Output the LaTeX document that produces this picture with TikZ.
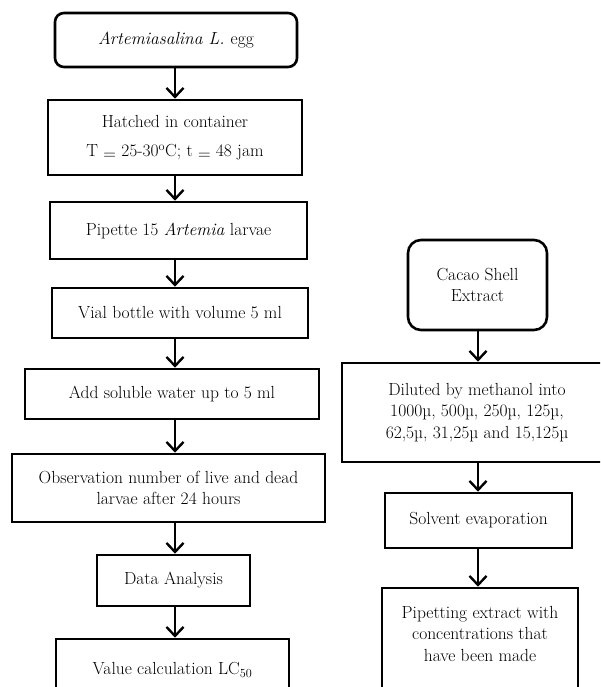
\documentclass[tikz,border=0pt]{standalone}
\usetikzlibrary{arrows.meta}
\begin{document}
\begin{tikzpicture}[x=1pt,y=-1pt,
  every node/.style={font=\fontsize{17.5}{21.5}\selectfont, align=center, inner sep=0pt},
  boxr/.style={draw, line width=2.6pt, rectangle},
  boxround/.style={boxr, rounded corners=9pt},
  arr/.style={line width=2.4pt, -{Straight Barb[length=9pt,width=17pt,line width=2.4pt]}}]
\useasboundingbox (0,0) rectangle (600,687);
\clip (0,0) rectangle (600,687);
\fill[white] (0,0) rectangle (600,687);
\coordinate (xL) at (175,0);
\coordinate (xR) at (478,0);
% left column
\node[boxround, minimum width=242pt, minimum height=54pt] (b1) at (176,40) {\itshape Artemiasalina L. \upshape egg};
\node[boxr, minimum width=254pt, minimum height=75pt] (b2) at (175,137.5) {Hatched in container\\[8pt] T \raisebox{-3pt}{=} 25-30\textsuperscript{o}C; t \raisebox{-3pt}{=} 48 jam};
\node[boxr, minimum width=257pt, minimum height=57pt] (b3) at (178.5,230.5) {Pipette 15 \textit{Artemia} larvae};
\node[boxr, minimum width=256pt, minimum height=50pt] (b4) at (180,313) {Vial bottle with volume 5 ml};
\node[boxr, minimum width=294pt, minimum height=50pt] (b5) at (172,394) {Add soluble water up to 5 ml};
\node[boxr, minimum width=313pt, minimum height=68pt] (b6) at (168.5,488) {Observation number of live and dead\\ larvae after 24 hours};
\node[boxr, minimum width=153pt, minimum height=51pt] (b7) at (173.5,580.5) {Data Analysis};
\node[boxr, minimum width=233pt, minimum height=62pt] (b8) at (172.5,670) {Value calculation LC\textsubscript{50}};
% right column
\node[boxround, rounded corners=13pt, minimum width=139pt, minimum height=90pt] (c1) at (477.5,285) {Cacao Shell\\ Extract};
\node[boxr, minimum width=270pt, minimum height=99pt] (c2) at (477,412.5) {Diluted by methanol into\\ 1000µ, 500µ, 250µ, 125µ,\\ 62,5µ, 31,25µ and 15,125µ};
\node[boxr, minimum width=187pt, minimum height=55pt] (c3) at (478.5,520.5) {Solvent evaporation};
\node[boxr, minimum width=196pt, minimum height=112pt] (c4) at (480,644) {};
\node (c4t) at (480,633.5) {Pipetting extract with\\ concentrations that\\ have been made};
% arrows
\draw[arr] (b1.south -| xL) -- (b2.north -| xL);
\draw[arr] (b2.south -| xL) -- (b3.north -| xL);
\draw[arr] (b3.south -| xL) -- (b4.north -| xL);
\draw[arr] (b4.south -| xL) -- (b5.north -| xL);
\draw[arr] (b5.south -| xL) -- (b6.north -| xL);
\draw[arr] (b6.south -| xL) -- (b7.north -| xL);
\draw[arr] (b7.south -| xL) -- (b8.north -| xL);
\draw[arr] (c1.south -| xR) -- (c2.north -| xR);
\draw[arr] (c2.south -| xR) -- (c3.north -| xR);
\draw[arr] (c3.south -| xR) -- (c4.north -| xR);
\end{tikzpicture}
\end{document}
